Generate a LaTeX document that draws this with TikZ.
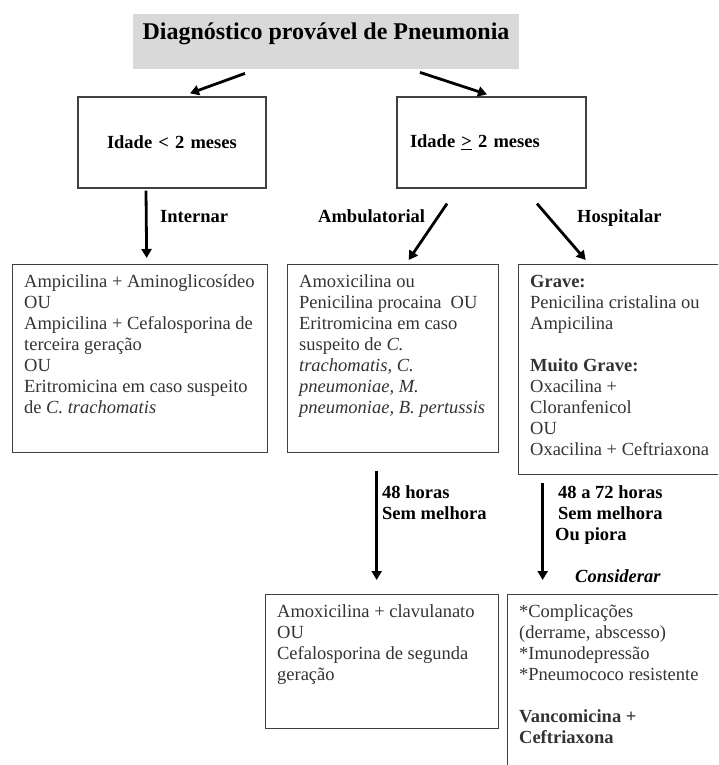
\documentclass[tikz,border=0pt]{standalone}
\usepackage{fontspec}
\setmainfont{Liberation Serif}
\usetikzlibrary{positioning,arrows.meta}
\newcommand{\bodysize}{\fontsize{18.5}{21}\selectfont}
\newcommand{\titlesize}{\fontsize{24}{28}\selectfont}
\newcommand{\boxlines}[3]{\parbox[c][#2][t]{#1}{\begin{tabular}[t]{@{}l@{}}#3\end{tabular}}}
\tikzset{title node/.style={fill=black!15,minimum width=386pt,inner ysep=4pt,text height=21pt,text depth=26pt,font=\titlesize\bfseries},
            age node/.style={draw=black!75,line width=1.3pt,minimum height=91pt,align=left,font=\bodysize\bfseries},
            drug node/.style={draw=black!75,line width=1.3pt,anchor=north west,inner xsep=11.5pt,inner ysep=8pt,text=black!80,font=\bodysize},
            label node/.style={anchor=base west,inner sep=0pt,align=left,font=\bodysize\bfseries},
            arr/.style={line width=2.8pt,-{Triangle[length=9pt,width=10pt]}},
            }

\begin{document}
\begin{tikzpicture}[x=1pt,y=-1pt]
    \useasboundingbox (0,0) rectangle (718,765);
    \clip (0,0) rectangle (718,765);

    \node[title node,anchor=north] (title) at (326,14) {Diagnóstico provável de Pneumonia};
    \node[age node,inner xsep=29pt,text width=130pt] (age1) at (172,142.5) {Idade < 2 meses};
    \node[age node,inner xsep=13pt,text width=163pt] (age2) at (491.5,142.5) {Idade \underline{>} 2 meses};

    \node[drug node] (drugA) at (12,264) {\boxlines{232pt}{172pt}{%
        Ampicilina + Aminoglicosídeo\\
        OU\\
        Ampicilina + Cefalosporina de\\
        terceira geração\\
        OU\\
        Eritromicina em caso suspeito\\
        de \textit{C. trachomatis}}};
    \node[drug node] (drugB) at (287,264) {\boxlines{188pt}{172pt}{%
        Amoxicilina ou\\
        Penicilina procaina\ \ OU\\
        Eritromicina em caso\\
        suspeito de \textit{C.}\\
        \textit{trachomatis, C.}\\
        \textit{pneumoniae, M.}\\
        \textit{pneumoniae, B. pertussis}}};
    \node[drug node] (drugC) at (518,264) {\boxlines{189pt}{194pt}{%
        \textbf{Grave:}\\
        Penicilina cristalina ou\\
        Ampicilina\\
        \\
        \textbf{Muito Grave:}\\
        Oxacilina +\\
        Cloranfenicol\\
        OU\\
        Oxacilina + Ceftriaxona}};
    \node[drug node] (drugD) at (265,594) {\boxlines{210pt}{118pt}{%
        Amoxicilina + clavulanato\\
        OU\\
        Cefalosporina de segunda\\
        geração}};
    \node[drug node] (drugE) at (507,594) {\boxlines{210pt}{204pt}{%
        {*}Complicações\\
        (derrame, abscesso)\\
        {*}Imunodepressão\\
        {*}Pneumococo resistente\\
        \\
        \textbf{Vancomicina +}\\
        \textbf{Ceftriaxona}}};

    % arrows
    \draw[arr] ([xshift=-81pt,yshift=-4pt]title.south) -- ([xshift=18pt,yshift=3pt]age1.north);
    \draw[arr] ([xshift=94pt,yshift=-3pt]title.south) -- ([xshift=-4.5pt,yshift=2pt]age2.north);
    \draw[arr] ([xshift=-26pt,yshift=-2pt]age1.south) -- ([xshift=6.5pt,yshift=6pt]drugA.north);
    \draw[arr] ([xshift=-44.5pt,yshift=-15pt]age2.south) -- ([xshift=15.5pt,yshift=4pt]drugB.north);
    \draw[arr] ([xshift=45.5pt,yshift=-15pt]age2.south) -- ([xshift=-39pt,yshift=4pt]drugC.north);
    \draw[arr] ([xshift=-16.5pt,yshift=-18pt]drugB.south) -- ([xshift=-5.5pt,yshift=14pt]drugD.north);
    \draw[arr] ([xshift=-82pt,yshift=-8pt]drugC.south) -- ([xshift=-81.5pt,yshift=14pt]drugE.north);

    % labels (multi-line ones sit on their last baseline)
    \node[label node] (internar) at (160,222) {Internar};
    \node[label node] (ambul) at (318,222) {Ambulatorial};
    \node[label node] (hosp) at (577,222) {Hospitalar};
    \node[label node] (wait48) at (382,519) {48 horas\\Sem melhora};
    \node[label node] (wait72) at (558,540) {48 a 72 horas\\Sem melhora\\\hspace*{-3pt}Ou piora};
    \node[label node,font=\bodysize\bfseries\itshape] (consid) at (575,582) {Considerar};
\end{tikzpicture}
\end{document}
